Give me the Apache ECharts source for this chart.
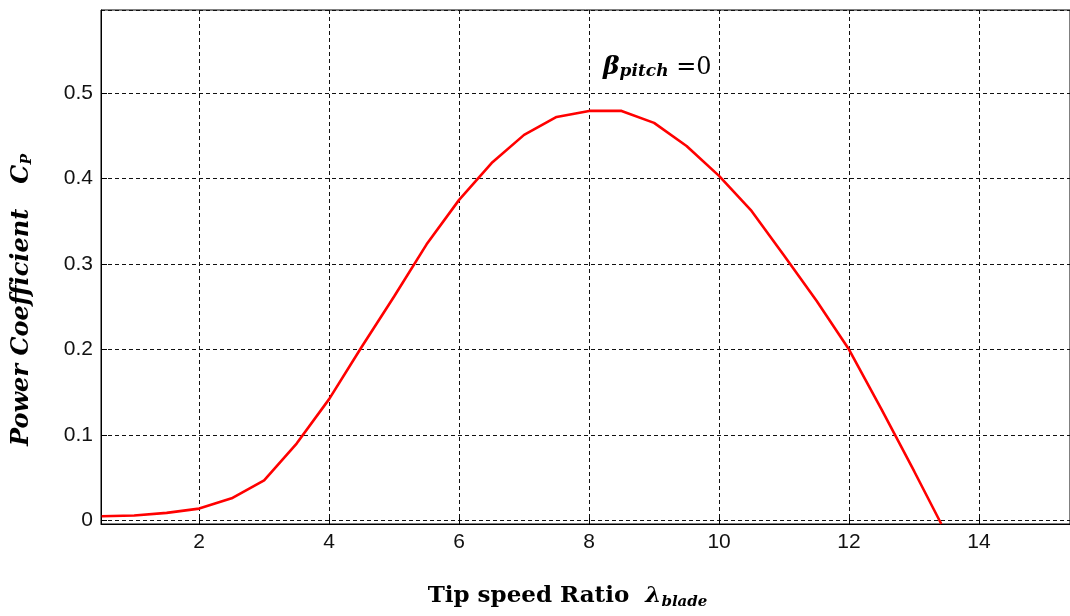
<!DOCTYPE html>
<html>
<head>
<meta charset="utf-8">
<script src="https://cdn.jsdelivr.net/npm/echarts@6/dist/echarts.min.js"></script>
<style>
  html, body { margin: 0; padding: 0; background: #fff; }
  #chart { width: 1070px; height: 616px; }
</style>
</head>
<body>
<div id="chart"></div>
<script>
// tip speed ratio (lambda) and power coefficient Cp
const tsr = [0.5, 1.0, 1.5, 2.0, 2.5, 3.0, 3.5, 4.0, 4.5, 5.0, 5.5, 6.0, 6.5, 7.0,
  7.5, 8.0, 8.5, 9.0, 9.5, 10.0, 10.5, 11.0, 11.5, 12.0, 12.5, 13.0, 13.42];
const cp = [0.005, 0.006, 0.009, 0.014, 0.026, 0.047, 0.09, 0.142, 0.203, 0.262,
  0.323, 0.375, 0.418, 0.451, 0.472, 0.479, 0.479, 0.465, 0.438, 0.403, 0.362,
  0.31, 0.257, 0.2, 0.13, 0.058, -0.004];

const labelFont = "'Liberation Sans', Arial, sans-serif";
const serif = "'DejaVu Serif', 'Liberation Serif', serif";

const gridDash = { color: "#111", width: 1, type: [4, 3] };

const option = {
  animation: false,
  grid: {
    left: 101,
    right: -1,
    top: 10,
    bottom: 92,
    show: true,
    borderColor: "#000",
    borderWidth: 1,
    backgroundColor: "#fff",
  },
  xAxis: {
    type: "value",
    min: 0.49,
    max: 15.4,
    splitNumber: 7,
    minInterval: 2,
    maxInterval: 2,
    axisLine: { show: true, onZero: false, lineStyle: { color: "#000", width: 1 } },
    axisTick: { show: true, inside: true, length: 6, lineStyle: { color: "#000" } },
    splitLine: { show: true, lineStyle: gridDash },
    axisLabel: {
      showMinLabel: false,
      showMaxLabel: false,
      color: "#111",
      fontFamily: labelFont,
      fontSize: 21,
      margin: 8,
    },
    name: "{t|Tip speed Ratio  }{l|λ}{s|blade}",
    nameLocation: "middle",
    nameGap: 58,
    nameTextStyle: {
      padding: [0, 36, 0, 0],
      rich: {
        t: { fontFamily: serif, fontWeight: "bold", fontSize: 23, color: "#000" },
        l: { fontFamily: serif, fontStyle: "italic", fontWeight: "bold", fontSize: 23, color: "#000" },
        s: { fontFamily: serif, fontStyle: "italic", fontWeight: "bold", fontSize: 15, color: "#000", padding: [13, 0, 0, 0] },
      },
    },
  },
  yAxis: {
    type: "value",
    min: -0.004,
    max: 0.597,
    splitNumber: 6,
    axisLine: { show: true, onZero: false, lineStyle: { color: "#000", width: 1 } },
    axisTick: { show: true, inside: true, length: 6, lineStyle: { color: "#000" } },
    splitLine: { show: true, lineStyle: gridDash },
    axisLabel: {
      showMinLabel: false,
      showMaxLabel: false,
      color: "#111",
      fontFamily: labelFont,
      fontSize: 21,
      margin: 8,
    },
    name: "{p|Power Coefficient   }{c|C}{s|P}",
    nameLocation: "middle",
    nameRotate: 90,
    nameGap: 67,
    nameTextStyle: {
      padding: [0, 66, 0, 0],
      rich: {
        p: { fontFamily: serif, fontStyle: "italic", fontWeight: "bold", fontSize: 24, color: "#000" },
        c: { fontFamily: serif, fontStyle: "italic", fontWeight: "bold", fontSize: 24, color: "#000" },
        s: { fontFamily: serif, fontStyle: "italic", fontWeight: "bold", fontSize: 14, color: "#000", padding: [10, 0, 0, 0] },
      },
    },
  },
  graphic: [
    {
      type: "text",
      left: 603,
      top: 55,
      style: {
        text: "{b|β}{s|pitch}{e| =0}",
        rich: {
          b: { fontFamily: serif, fontStyle: "italic", fontWeight: "bold", fontSize: 25, color: "#000" },
          s: { fontFamily: serif, fontStyle: "italic", fontWeight: "bold", fontSize: 17, color: "#000", padding: [9, 0, 0, 0] },
          e: { fontFamily: serif, fontSize: 24, color: "#000" },
        },
      },
    },
  ],
  series: [
    {
      type: "line",
      data: tsr.map((x, i) => [x, cp[i]]),
      showSymbol: false,
      smooth: false,
      lineStyle: { color: "#ff0000", width: 2.6 },
      clip: true,
    },
  ],
};

const chart = echarts.init(document.getElementById("chart"));
chart.setOption(option);
</script>
</body>
</html>
